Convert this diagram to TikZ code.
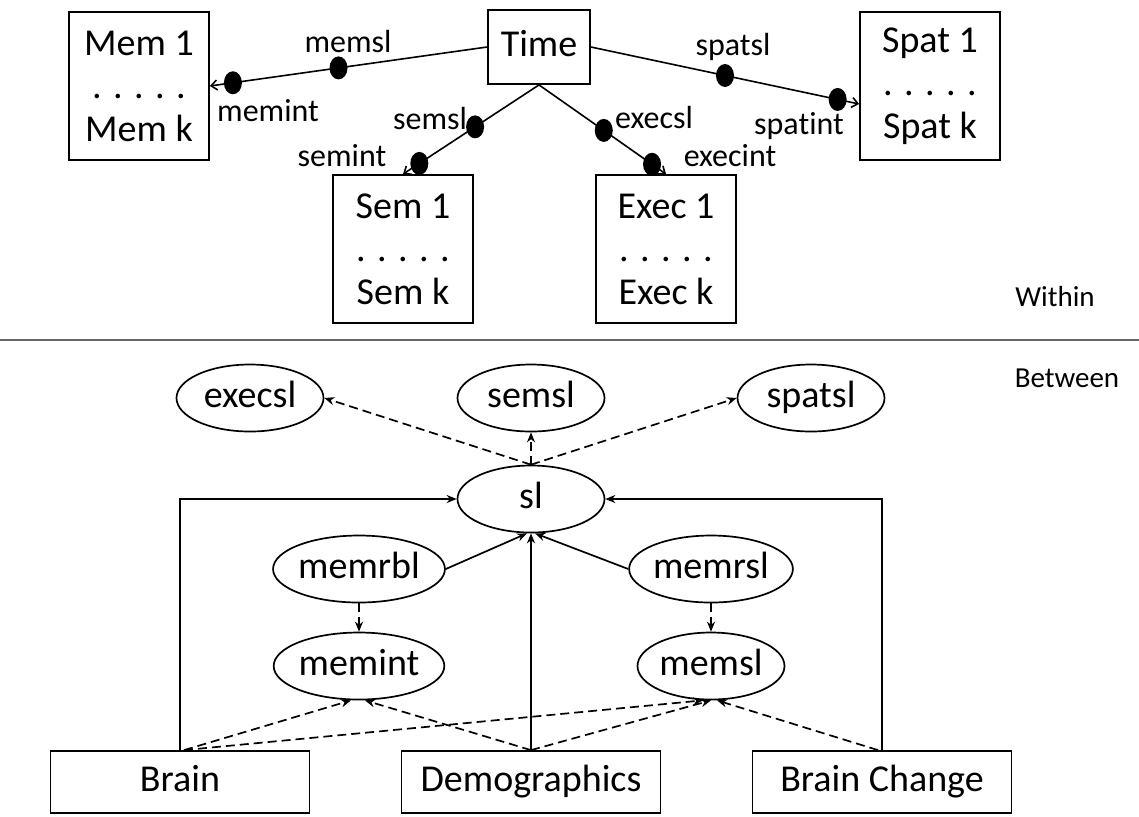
\documentclass[tikz,border=0pt]{standalone}
\usepackage{fontspec}
\setmainfont{Carlito}[Ligatures=NoCommon]
\usetikzlibrary{shapes.geometric,arrows.meta}
\begin{document}
\begin{tikzpicture}[x=0.5pt,y=-0.5pt,
  bigbox/.style={draw,line width=0.9pt,align=center,inner sep=0pt,
    minimum width=70pt,minimum height=74pt,font=\fontsize{19}{21.5}\selectfont},
  timebox/.style={draw,line width=0.9pt,inner sep=0pt,text height=13pt,text depth=4pt,
    minimum width=51pt,minimum height=37pt,font=\fontsize{19}{22}\selectfont},
  lowbox/.style={draw,line width=0.9pt,inner sep=0pt,text height=13pt,text depth=4pt,
    minimum width=129.5pt,minimum height=31pt,font=\fontsize{19}{22}\selectfont},
  ell/.style={ellipse,draw,line width=0.85pt,inner sep=0pt,text height=13pt,text depth=4pt,
    minimum width=73.5pt,minimum height=33.5pt,font=\fontsize{19}{22}\selectfont},
  blob/.style={ellipse,fill=black,inner sep=0pt,minimum width=9pt,minimum height=11.5pt},
  lbl/.style={font=\fontsize{16}{18}\selectfont,inner sep=0pt},
  side/.style={font=\fontsize{14.5}{16}\selectfont,inner sep=0pt},
  topconn/.style={line width=0.8pt,-{Straight Barb[length=3pt,width=5pt]}},
  solidarr/.style={line width=0.85pt,-{Stealth[length=5pt,width=4pt]}},
  dasharr/.style={line width=0.85pt,dash pattern=on 4.5pt off 2.5pt,-{Stealth[length=5pt,width=4pt]}}
]
\useasboundingbox (0,0) rectangle (1139,816);

% ---- Within part
\node[bigbox] (Mem) at (139,86) {Mem 1\\. . . . .\\Mem k};
\node[timebox] (Time) at (539,47) {Time};
\node[bigbox] (Spat) at (930,86) {Spat 1\\. . . . .\\Spat k};
\node[bigbox] (Sem) at (403,249) {Sem 1\\. . . . .\\Sem k};
\node[bigbox] (Exec) at (666,249) {Exec 1\\. . . . .\\Exec k};

\draw[topconn] (Time.west) -- node[blob,pos=0.536]{} node[blob,pos=0.917]{} (Mem.east);
\draw[topconn] (Time.east) -- node[blob,pos=0.50]{} node[blob,pos=0.92]{} ([yshift=-9pt]Spat.west);
\draw[topconn] (Time.south) -- node[blob,pos=0.47]{} node[blob,pos=0.88]{} (Sem.north);
\draw[topconn] (Time.south) -- node[blob,pos=0.51]{} node[blob,pos=0.89]{} (Exec.north);

\node[lbl] (lmemsl) at (348,41) {memsl};
\node[lbl] (lmemint) at (268,111) {memint};
\node[lbl] (lspatsl) at (733,47) {spatsl};
\node[lbl] (lspatint) at (799,126) {spatint};
\node[lbl] (lsemsl) at (430,118) {semsl};
\node[lbl] (lsemint) at (342,156) {semint};
\node[lbl] (lexecsl) at (654,117) {execsl};
\node[lbl] (lexecint) at (730,156) {execint};

\node[side] (within) at (1055,297) {Within};
\coordinate (sepL) at (0,340);
\coordinate (sepR) at (1139,340);
\draw[line width=1.1pt,black!60] (sepL) -- (sepR);
\node[side] (between) at (1067,378) {Between};

% ---- Between part
\node[ell] (execsl) at (250,398) {execsl};
\node[ell] (semsl) at (531,398) {semsl};
\node[ell] (spatsl) at (811,398) {spatsl};
\node[ell] (sl) at (531,499) {sl};
\node[ell] (memrbl) at (359,569) {memrbl};
\node[ell] (memrsl) at (711,569) {memrsl};
\node[ell] (memint) at (359,666) {memint};
\node[ell] (memslb) at (711,666) {memsl};

\node[lowbox] (Brain) at (180,782) {Brain};
\node[lowbox] (Demo) at (531,782) {Demographics};
\node[lowbox] (BChange) at (882,782) {Brain Change};

\draw[dasharr] (sl.north) -- (execsl.east);
\draw[dasharr] (sl.north) -- (semsl.south);
\draw[dasharr] (sl.north) -- (spatsl.west);

\draw[solidarr] (Brain.north) |- (sl.west);
\draw[solidarr] (BChange.north) |- (sl.east);
\draw[solidarr] (Demo.north) -- (sl.south);
\draw[solidarr] (memrbl.east) -- ([xshift=-2pt]sl.south);
\draw[solidarr] (memrsl.west) -- ([xshift=2pt]sl.south);

\draw[dasharr] (memrbl.south) -- (memint.north);
\draw[dasharr] (memrsl.south) -- (memslb.north);

\draw[dasharr] ([xshift=2pt]Brain.north) -- ([xshift=-4pt]memint.south);
\draw[dasharr] ([xshift=2pt]Brain.north) -- ([xshift=-4pt]memslb.south);
\draw[dasharr] (Demo.north) -- ([xshift=3pt]memint.south);
\draw[dasharr] (Demo.north) -- (memslb.south);
\draw[dasharr] ([xshift=-2pt]BChange.north) -- ([xshift=3pt]memslb.south);
\end{tikzpicture}
\end{document}
